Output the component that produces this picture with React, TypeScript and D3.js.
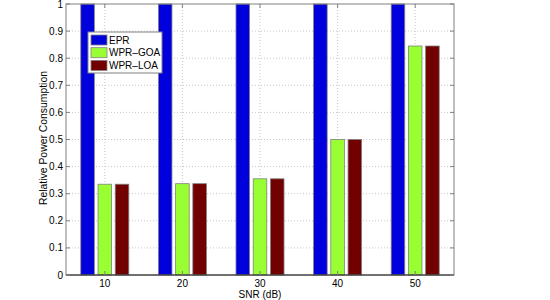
import { useEffect, useRef } from 'react';
import * as d3 from 'd3';

const snr = [10, 20, 30, 40, 50];
const seriesNames = ['EPR', 'WPR\u2013GOA', 'WPR\u2013LOA'];
const epr = [1, 1, 1, 1, 1];
const wprGoa = [0.335, 0.337, 0.355, 0.5, 0.845];
const wprLoa = [0.335, 0.337, 0.355, 0.5, 0.845];
const yTicks = [0, 0.1, 0.2, 0.3, 0.4, 0.5, 0.6, 0.7, 0.8, 0.9, 1];
const colors = ['#0000dd', '#99ff33', '#730000'];

const App = () => {
  const svgRef = useRef(null);

  useEffect(() => {
    const width = 550;
    const height = 300;
    const m = { left: 66, right: 96, top: 4, bottom: 25 };

    const svg = d3.select(svgRef.current)
      .attr('width', width)
      .attr('height', height)
      .style('font-family', 'Liberation Sans, Arial, sans-serif');

    svg.selectAll('*').remove();

    const x = d3.scaleLinear().domain([5, 55]).range([m.left, width - m.right]);
    const y = d3.scaleLinear().domain([0, 1]).range([height - m.bottom, m.top]);

    const series = [epr, wprGoa, wprLoa];
    const step = x(20) - x(10);
    const barW = step * 0.175;
    const offset = step * 0.222;

    // grid
    const g = svg.append('g');
    g.selectAll('line.gy')
      .data(yTicks.slice(1, -1))
      .enter()
      .append('line')
      .attr('x1', m.left)
      .attr('x2', width - m.right)
      .attr('y1', d => y(d))
      .attr('y2', d => y(d))
      .attr('stroke', '#c8c8c8')
      .attr('stroke-dasharray', '1,2');
    g.selectAll('line.gx')
      .data(snr)
      .enter()
      .append('line')
      .attr('x1', d => x(d))
      .attr('x2', d => x(d))
      .attr('y1', m.top)
      .attr('y2', height - m.bottom)
      .attr('stroke', '#c8c8c8')
      .attr('stroke-dasharray', '1,2');

    // bars
    series.forEach((vals, si) => {
      g.selectAll(`rect.s${si}`)
        .data(vals)
        .enter()
        .append('rect')
        .attr('x', (d, i) => x(snr[i]) + (si - 1) * offset - barW / 2)
        .attr('y', d => y(d))
        .attr('width', barW)
        .attr('height', d => y(0) - y(d))
        .attr('fill', colors[si])
        .attr('stroke', '#808080')
        .attr('stroke-width', 0.8);
    });

    // box
    g.append('rect')
      .attr('x', m.left)
      .attr('y', m.top)
      .attr('width', width - m.left - m.right)
      .attr('height', height - m.top - m.bottom)
      .attr('fill', 'none')
      .attr('stroke', '#808080')
      .attr('stroke-width', 1);
    g.append('line')
      .attr('x1', m.left)
      .attr('x2', width - m.right)
      .attr('y1', y(0))
      .attr('y2', y(0))
      .attr('stroke', '#222');

    // ticks
    yTicks.forEach(t => {
      g.append('line').attr('x1', m.left).attr('x2', m.left + 4)
        .attr('y1', y(t)).attr('y2', y(t)).attr('stroke', '#808080');
      g.append('line').attr('x1', width - m.right - 4).attr('x2', width - m.right)
        .attr('y1', y(t)).attr('y2', y(t)).attr('stroke', '#808080');
      g.append('text')
        .attr('x', m.left - 3)
        .attr('y', y(t))
        .attr('dy', '0.35em')
        .attr('text-anchor', 'end')
        .style('font-size', '10px')
        .text(t === 0 || t === 1 ? String(t) : t.toFixed(1));
    });
    snr.forEach(t => {
      g.append('line').attr('x1', x(t)).attr('x2', x(t))
        .attr('y1', y(0)).attr('y2', y(0) - 4).attr('stroke', '#808080');
      g.append('line').attr('x1', x(t)).attr('x2', x(t))
        .attr('y1', m.top).attr('y2', m.top + 4).attr('stroke', '#808080');
      g.append('text')
        .attr('x', x(t))
        .attr('y', 287)
        .attr('text-anchor', 'middle')
        .style('font-size', '10px')
        .text(t);
    });

    // axis labels
    g.append('text')
      .attr('x', (m.left + width - m.right) / 2)
      .attr('y', 298)
      .attr('text-anchor', 'middle')
      .style('font-size', '10px')
      .text('SNR (dB)');
    g.append('text')
      .attr('transform', 'translate(47,138) rotate(-90)')
      .attr('text-anchor', 'middle')
      .style('font-size', '10.4px')
      .text('Relative Power Consumption');

    // legend
    const lg = g.append('g').attr('transform', 'translate(88,32)');
    lg.append('rect')
      .attr('width', 74)
      .attr('height', 41)
      .attr('fill', '#fff')
      .attr('stroke', '#808080');
    seriesNames.forEach((name, i) => {
      lg.append('rect')
        .attr('x', 3)
        .attr('y', 3 + i * 12.7)
        .attr('width', 16)
        .attr('height', 10)
        .attr('fill', colors[i])
        .attr('stroke', '#808080')
        .attr('stroke-width', 0.8);
      lg.append('text')
        .attr('x', 21)
        .attr('y', 8 + i * 12.7)
        .attr('dy', '0.35em')
        .style('font-size', '10px')
        .text(name);
    });
  }, []);

  return (
    <div>
      <svg ref={svgRef} style={{ position: 'absolute', left: 0, top: 0 }}></svg>
    </div>
  );
};

export default App;
